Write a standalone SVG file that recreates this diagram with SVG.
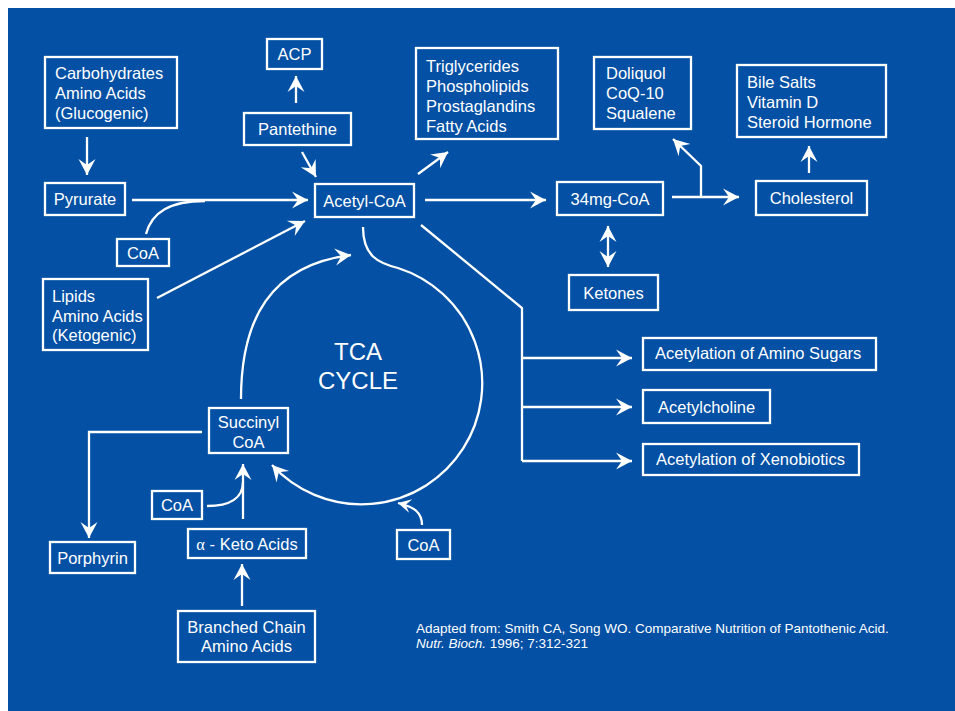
<svg xmlns="http://www.w3.org/2000/svg" width="955" height="711" viewBox="0 0 955 711">
<defs>
<style>
.bx{fill:none;stroke:#fff;stroke-width:2.3}
.t{fill:#fff;font-family:"Liberation Sans",Arial,Helvetica,sans-serif;font-size:16.5px}
.c{text-anchor:middle}
.ln{fill:none;stroke:#fff;stroke-width:2.3}
.big{font-size:24px}
.cite{fill:#fff;font-family:"Liberation Sans",Arial,Helvetica,sans-serif;font-size:13.5px}
</style>
<marker id="ah" viewBox="-17 -10 18 20" refX="0" refY="0" markerWidth="18" markerHeight="20" markerUnits="userSpaceOnUse" orient="auto-start-reverse">
<path d="M0,0 L-16,-8.5 L-10,0 L-16,8.5 Z" fill="#fff"/>
</marker>
<marker id="ahs" viewBox="-14 -8 15 16" refX="0" refY="0" markerWidth="15" markerHeight="16" markerUnits="userSpaceOnUse" orient="auto">
<path d="M0,0 L-13,-7 L-8,0 L-13,7 Z" fill="#fff"/>
</marker>
</defs>
<rect x="0" y="0" width="955" height="711" fill="#fff"/>
<rect x="8" y="8" width="947" height="703" fill="#0350A4"/>

<g id="connectors">
<path class="ln" d="M87,137 L87,175" marker-end="url(#ah)"/>
<path class="ln" d="M296,103 L296,76" marker-end="url(#ah)"/>
<path class="ln" d="M302,152 L316,177" marker-end="url(#ah)"/>
<path class="ln" d="M132,200 L308,200" marker-end="url(#ah)"/>
<path class="ln" d="M146,234 C152,212 170,201 205,201"/>
<path class="ln" d="M157,298 L305,221" marker-end="url(#ah)"/>
<path class="ln" d="M418,174 L448,152" marker-end="url(#ah)"/>
<path class="ln" d="M425,200 L546,200" marker-end="url(#ah)"/>
<path class="ln" d="M672,197 L739,197" marker-end="url(#ah)"/>
<path class="ln" d="M701,197 L701,166 L673,139" marker-end="url(#ah)"/>
<path class="ln" d="M809,173 L809,146" marker-end="url(#ah)"/>
<path class="ln" d="M608,226 L608,267" marker-start="url(#ah)" marker-end="url(#ah)"/>
<path class="ln" d="M421,225 L522,308 L522,461"/>
<path class="ln" d="M522,358 L632,358" marker-end="url(#ah)"/>
<path class="ln" d="M522,407 L632,407" marker-end="url(#ah)"/>
<path class="ln" d="M522,461 L632,461" marker-end="url(#ah)"/>
<path class="ln" d="M241,399 C241,320 270,265 351,255" marker-end="url(#ah)"/>
<path class="ln" d="M363,227 C363,256 378,263 398,268 A121,121 0 1 1 272,465" marker-end="url(#ah)"/>
<path class="ln" d="M202,432 L89,432 L89,538" marker-end="url(#ah)"/>
<path class="ln" d="M243,519 L243,464" marker-end="url(#ah)"/>
<path class="ln" d="M207,506 C230,506 243,498 243,482"/>
<path class="ln" d="M242,606 L242,564" marker-end="url(#ah)"/>
<path class="ln" d="M422,525 C422,513 415,507 398,503" marker-end="url(#ahs)"/>
</g>

<g id="carbohydrates">
<rect class="bx" x="45" y="57" width="132" height="71"/>
<text class="t" x="55" y="79">Carbohydrates</text>
<text class="t" x="55" y="98.5">Amino Acids</text>
<text class="t" x="55" y="118.5">(Glucogenic)</text>
</g>
<g id="acp">
<rect class="bx" x="267" y="39" width="55" height="30"/>
<text class="t c" x="294.5" y="60">ACP</text>
</g>
<g id="pantethine">
<rect class="bx" x="244" y="113" width="107" height="32"/>
<text class="t c" x="297.5" y="135">Pantethine</text>
</g>
<g id="pyrurate">
<rect class="bx" x="45" y="183" width="80" height="32"/>
<text class="t c" x="85" y="205">Pyrurate</text>
</g>
<g id="acetylcoa">
<rect class="bx" x="315" y="184" width="99" height="33"/>
<text class="t c" x="364.5" y="206.5">Acetyl-CoA</text>
</g>
<g id="coa-top">
<rect class="bx" x="117" y="239" width="52" height="27"/>
<text class="t c" x="143" y="258.5">CoA</text>
</g>
<g id="lipids">
<rect class="bx" x="43" y="279" width="105" height="71"/>
<text class="t" x="52" y="302">Lipids</text>
<text class="t" x="52" y="321.5">Amino Acids</text>
<text class="t" x="52" y="341">(Ketogenic)</text>
</g>
<g id="triglycerides">
<rect class="bx" x="416" y="48" width="142" height="91"/>
<text class="t" x="426" y="72">Triglycerides</text>
<text class="t" x="426" y="92">Phospholipids</text>
<text class="t" x="426" y="112">Prostaglandins</text>
<text class="t" x="426" y="132">Fatty Acids</text>
</g>
<g id="doliquol">
<rect class="bx" x="594" y="57" width="97" height="72"/>
<text class="t" x="606" y="79">Doliquol</text>
<text class="t" x="606" y="99">CoQ-10</text>
<text class="t" x="606" y="119">Squalene</text>
</g>
<g id="bilesalts">
<rect class="bx" x="737" y="65" width="149" height="72"/>
<text class="t" x="747" y="88">Bile Salts</text>
<text class="t" x="747" y="108">Vitamin D</text>
<text class="t" x="747" y="128">Steroid Hormone</text>
</g>
<g id="hmgcoa">
<rect class="bx" x="557" y="182" width="106" height="33"/>
<text class="t c" x="610" y="204.5">34mg-CoA</text>
</g>
<g id="cholesterol">
<rect class="bx" x="756" y="181" width="111" height="34"/>
<text class="t c" x="811.5" y="204">Cholesterol</text>
</g>
<g id="ketones">
<rect class="bx" x="569" y="275" width="89" height="35"/>
<text class="t c" x="613.5" y="298.5">Ketones</text>
</g>
<g id="aminosugars">
<rect class="bx" x="643" y="338" width="233" height="32"/>
<text class="t" x="655" y="359">Acetylation of Amino Sugars</text>
</g>
<g id="acetylcholine">
<rect class="bx" x="643" y="390" width="127" height="33"/>
<text class="t" x="658" y="413">Acetylcholine</text>
</g>
<g id="xenobiotics">
<rect class="bx" x="643" y="444" width="216" height="31"/>
<text class="t" x="656" y="465">Acetylation of Xenobiotics</text>
</g>
<g id="tca">
<text class="t c big" x="358" y="360">TCA</text>
<text class="t c big" x="358" y="389">CYCLE</text>
</g>
<g id="succinylcoa">
<rect class="bx" x="209" y="408" width="79" height="45"/>
<text class="t c" x="248.5" y="428">Succinyl</text>
<text class="t c" x="248.5" y="448">CoA</text>
</g>
<g id="porphyrin">
<rect class="bx" x="50" y="542" width="85" height="31"/>
<text class="t c" x="92.5" y="563.5">Porphyrin</text>
</g>
<g id="coa-left">
<rect class="bx" x="152" y="491" width="50" height="28"/>
<text class="t c" x="177" y="511">CoA</text>
</g>
<g id="ketoacids">
<rect class="bx" x="188" y="529" width="118" height="29"/>
<text class="t c" x="247" y="549.5"><tspan font-family="'Liberation Serif',serif">α</tspan> - Keto Acids</text>
</g>
<g id="branched">
<rect class="bx" x="178" y="611" width="137" height="51"/>
<text class="t c" x="246.5" y="633">Branched Chain</text>
<text class="t c" x="246.5" y="652">Amino Acids</text>
</g>
<g id="coa-bottom">
<rect class="bx" x="397" y="530" width="53" height="29"/>
<text class="t c" x="423.5" y="550.5">CoA</text>
</g>
<g id="citation">
<text class="cite" x="416" y="633">Adapted from: Smith CA, Song WO. Comparative Nutrition of Pantothenic Acid.</text>
<text class="cite" x="416" y="648"><tspan font-style="italic">Nutr. Bioch.</tspan> 1996; 7:312-321</text>
</g>
</svg>
